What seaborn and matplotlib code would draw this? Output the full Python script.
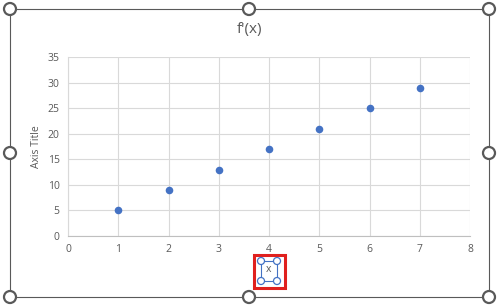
import matplotlib
matplotlib.use("Agg")
import matplotlib.pyplot as plt
import seaborn as sns
import pandas as pd
from matplotlib.patches import Rectangle, Ellipse

x_vals = [1, 2, 3, 4, 5, 6, 7]
y_vals = [5, 9, 13, 17, 21, 25, 29]
title = "f'(x)"
x_title = "x"
y_title = "Axis Title"

df = pd.DataFrame({"x": x_vals, "y": y_vals})

sns.set_style("white")
plt.rcParams['font.family'] = ['Open Sans', 'DejaVu Sans']

W, H = 499, 307
fig = plt.figure(figsize=(W / 100, H / 100), dpi=100)
ax = fig.add_axes([68 / W, 1 - 236 / H, (470 - 68) / W, (236 - 57) / H])

sns.scatterplot(data=df, x="x", y="y", ax=ax, color="#4472C4", s=30,
                edgecolor="#4472C4", linewidth=0, zorder=3)

ax.set_xlim(0, 8)
ax.set_ylim(0, 35)
ax.set_xticks(range(0, 9))
ax.set_yticks(range(0, 36, 5))
ax.grid(True, color="#D9D9D9", linewidth=0.8)
for s in ["top", "right"]:
    ax.spines[s].set_visible(False)
ax.spines["left"].set_color("#D9D9D9")
ax.spines["bottom"].set_color("#BFBFBF")
ax.tick_params(axis="both", length=0, labelsize=7.5, labelcolor="#595959", pad=6)
ax.set_xlabel("")
ax.set_ylabel(y_title, fontsize=7.5, color="#595959", labelpad=4)

fig.text(250 / W, 1 - 30 / H, title, ha="center", va="center",
         fontsize=11, color="#595959")

# selected x axis title
fig.text(268 / W, 1 - 270 / H, x_title, ha="center", va="center",
         fontsize=7.5, color="#595959")
fig.patches.append(Rectangle((254 / W, 1 - 288 / H), 31 / W, 33 / H,
                             transform=fig.transFigure, fill=False,
                             edgecolor="#E0201E", linewidth=2.2))
fig.patches.append(Rectangle((261 / W, 1 - 281 / H), 16 / W, 20 / H,
                             transform=fig.transFigure, fill=False,
                             edgecolor="#4472C4", linewidth=0.8))
for (cx, cy) in [(261, 261), (277, 261), (261, 281), (277, 281)]:
    fig.patches.append(Ellipse((cx / W, 1 - cy / H), 7 / W, 7 / H,
                               transform=fig.transFigure, facecolor="white",
                               edgecolor="#4472C4", linewidth=0.9, zorder=5))

# chart frame with handles
fig.patches.append(Rectangle((10 / W, 1 - 297 / H), 479 / W, 288 / H,
                             transform=fig.transFigure, fill=False,
                             edgecolor="#595959", linewidth=0.8))
for (cx, cy) in [(10, 9), (249, 9), (489, 9), (10, 153), (489, 153),
                 (10, 297), (249, 297), (489, 297)]:
    fig.patches.append(Ellipse((cx / W, 1 - cy / H), 12 / W, 12 / H,
                               transform=fig.transFigure, facecolor="white",
                               edgecolor="#595959", linewidth=1.6, zorder=5))

fig.savefig("out.png", dpi=100)
